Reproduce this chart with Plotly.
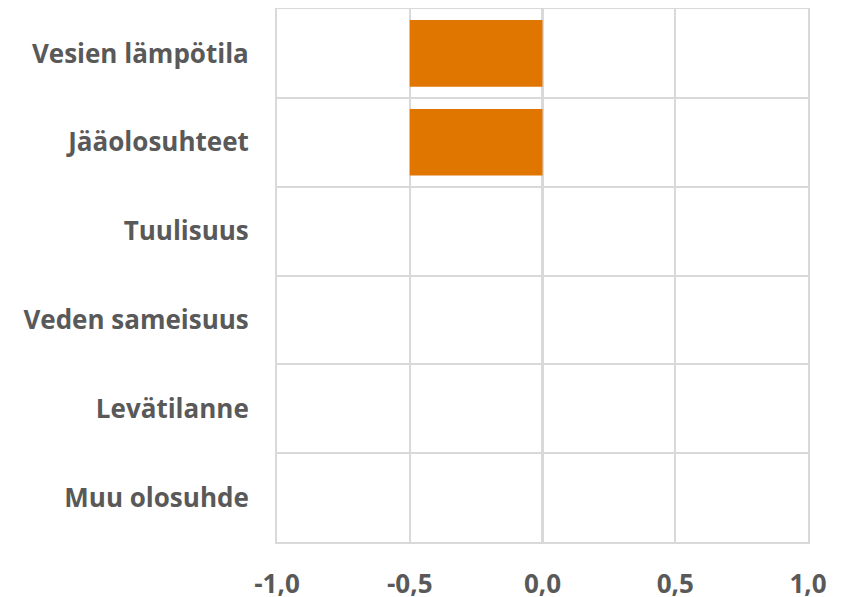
import plotly.graph_objects as go

categories = ["Vesien lämpötila", "Jääolosuhteet", "Tuulisuus", "Veden sameisuus", "Levätilanne", "Muu olosuhde"]
values = [-0.5, -0.5, 0, 0, 0, 0]
x_ticks = [-1.0, -0.5, 0.0, 0.5, 1.0]
x_tick_labels = ["-1,0", "-0,5", "0,0", "0,5", "1,0"]

grid = "#d9d9d9"
fontc = "#595959"

fig = go.Figure(go.Bar(
    y=categories, x=values, orientation="h",
    marker=dict(color="#e07500", line=dict(width=0)),
))

fig.update_layout(
    width=843, height=589,
    margin=dict(l=269, r=43, t=1, b=55),
    paper_bgcolor="white", plot_bgcolor="white",
    bargap=0.25,
    showlegend=False,
    font=dict(family="Open Sans", size=20, color=fontc),
    xaxis=dict(
        range=[-1, 1], tickvals=x_ticks, ticktext=x_tick_labels,
        showgrid=True, gridcolor=grid, gridwidth=2,
        zeroline=True, zerolinecolor=grid, zerolinewidth=3,
        showline=True, linecolor=grid, linewidth=2, mirror=True,
        ticks="", ticklabelstandoff=18, automargin=False,
        tickfont=dict(family="Open Sans", size=26, color=fontc, weight="bold"),
    ),
    yaxis=dict(
        autorange="reversed", type="category",
        tickson="boundaries", showgrid=True, gridcolor=grid, gridwidth=2,
        showline=True, linecolor=grid, linewidth=2, mirror=True,
        ticks="", ticklabelstandoff=21, automargin=False,
        tickfont=dict(family="Open Sans", size=26, color=fontc, weight="bold"),
    ),
)

fig.write_html("out.html")
